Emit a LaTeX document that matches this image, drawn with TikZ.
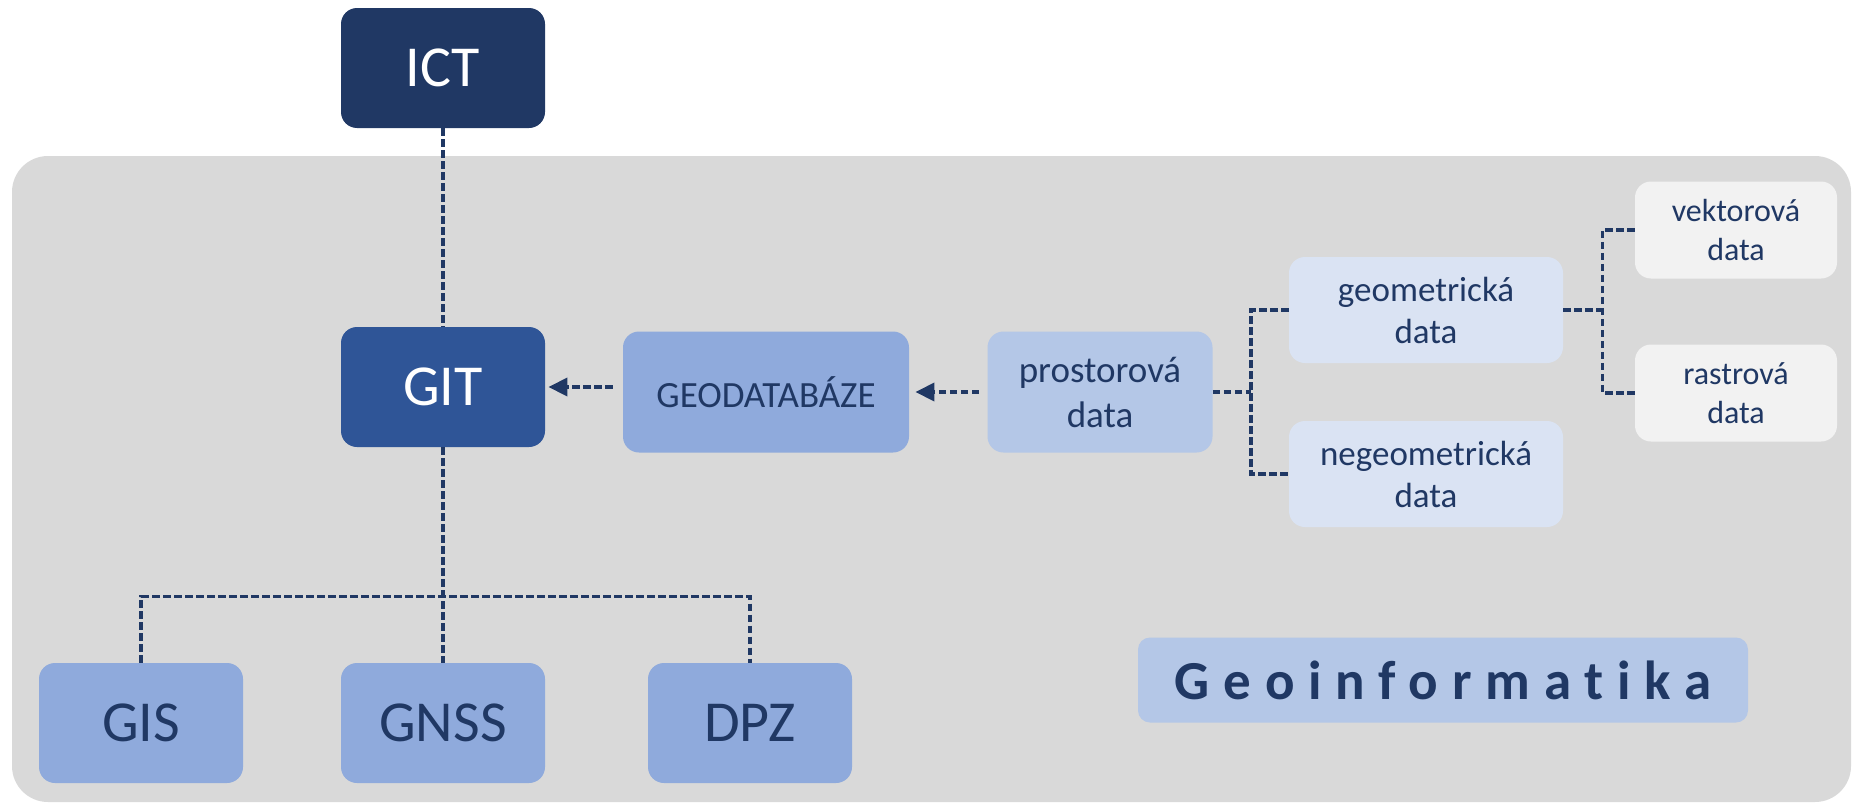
\documentclass[tikz,border=0pt]{standalone}
\usepackage{fontspec}
\setmainfont{Carlito}
\usepackage{tikz}
\usetikzlibrary{positioning,calc,arrows.meta}

\definecolor{navy}{HTML}{203864}
\definecolor{gitblue}{HTML}{2F5597}
\definecolor{midblue}{HTML}{8FAADC}
\definecolor{lightblue}{HTML}{B4C7E7}
\definecolor{paleblue}{HTML}{DAE3F3}
\definecolor{offwhite}{HTML}{F2F2F2}
\definecolor{bggray}{HTML}{D9D9D9}

\tikzset{
  box/.style={rectangle, rounded corners=8pt, inner sep=0pt, align=center, text=navy},
  bigbox/.style={box, minimum width=102pt, minimum height=60pt, font=\fontsize{29}{35}\selectfont},
  databox/.style={box, minimum height=60.5pt, font=\fontsize{18.5}{22.5}\selectfont},
  subbox/.style={box, fill=paleblue, minimum width=137pt, minimum height=53pt, font=\fontsize{17.5}{21}\selectfont},
  leafbox/.style={box, fill=offwhite, minimum width=101pt, minimum height=48.5pt, font=\fontsize{16}{19.5}\selectfont},
  titlebox/.style={box, fill=lightblue, rounded corners=6pt, minimum width=305pt, minimum height=42.5pt,
    font=\fontsize{27.5}{33}\selectfont\bfseries\addfontfeatures{LetterSpace=25,Ligatures=NoCommon}},
  link/.style={draw=navy, line width=1.75pt, dash pattern=on 3.75pt off 1.75pt},
  arr/.style={link, -{Triangle[length=9.5pt,width=9pt]}}
}

\begin{document}
\begin{tikzpicture}
\useasboundingbox (0,0) rectangle (926pt,-401.5pt);
\fill[bggray, rounded corners=18pt] (6pt,-78pt) rectangle (925.5pt,-401pt);

\node [bigbox, fill=navy, text=white] (ict) at (221.5pt,-34pt) {ICT};
\node [bigbox, fill=gitblue, text=white, below of=ict, node distance=159.5pt] (git) {GIT};
\node [bigbox, fill=midblue, below of=git, node distance=168pt] (gnss) {GNSS};
\node [bigbox, fill=midblue, left of=gnss, node distance=151pt] (gis) {GIS};
\node [bigbox, fill=midblue, right of=gnss, node distance=153.5pt] (dpz) {DPZ};
\node [databox, fill=midblue, minimum width=143pt, right of=git, yshift=-2.5pt, node distance=161.5pt] (geodb) {GEODATABÁZE};
\node [databox, fill=lightblue, minimum width=112.5pt, right of=geodb, node distance=167pt] (prost) {prostorová\\data};
\node [subbox, right of=prost, yshift=+41pt, node distance=163pt] (geom) {geometrická\\data};
\node [subbox, below of=geom, node distance=82pt] (neg) {negeometrická\\data};
\node [leafbox, right of=geom, yshift=+40pt, node distance=155pt] (vekt) {vektorová\\data};
\node [leafbox, below of=vekt, node distance=81.5pt] (rast) {rastrová\\data};
\node [titlebox, right of=dpz, yshift=+21.5pt, node distance=346.5pt] (geoinf) {Geoinformatika};

% hierarchy
\draw[link] (ict) -- (git);
\draw[link] (git) -- (gnss);
\draw[link] (gis.north) -- ++(0,33pt) -| (dpz.north);

% data flow
\draw[arr, shorten <=5pt, shorten >=1.5pt] (geodb.west |- git.east) -- (git.east);
\draw[arr, shorten <=4pt, shorten >=3pt] (prost) -- (geodb);

% data types
\draw[link] (prost.east) -- ++(19pt,0) coordinate (f1);
\draw[link] (geom.west) -| (f1) |- (neg.west);
\draw[link] (geom.east) -- ++(19.5pt,0) coordinate (f2);
\draw[link] (vekt.west) -| (f2) |- (rast.west);
\end{tikzpicture}
\end{document}
